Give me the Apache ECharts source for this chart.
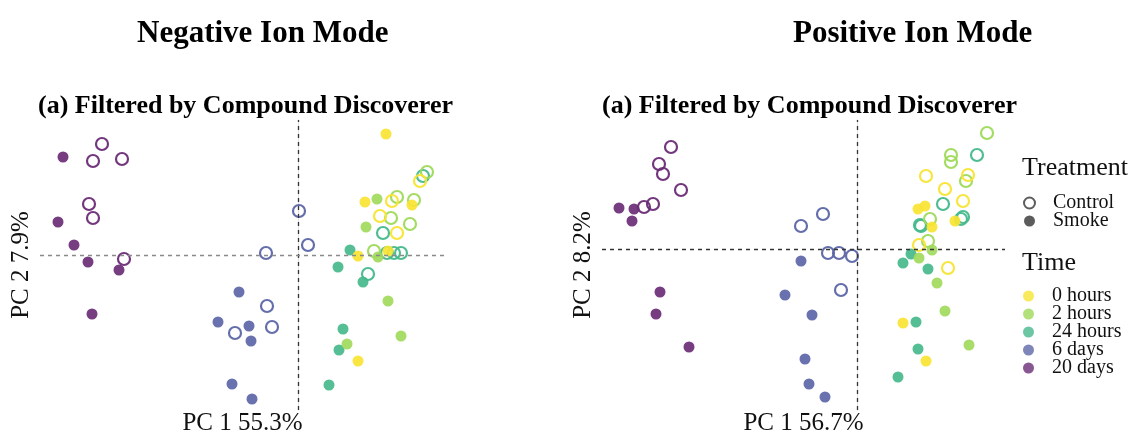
<!DOCTYPE html>
<html><head><meta charset="utf-8">
<script src="https://cdn.jsdelivr.net/npm/echarts@6/dist/echarts.min.js"></script>
<style>html,body{margin:0;padding:0;background:#fff}#c{width:1132px;height:437px}</style>
</head><body><div id="c"></div>
<script>
// Time groups and colours
const timeLevels = ['0 hours','2 hours','24 hours','6 days','20 days'];
const timeColors = ['#F8E433','#9FDA5B','#46B98C','#5C66A7','#6A2C76'];
const treatments = ['Control','Smoke'];

// Negative ion mode: [PC1, PC2] scores
const negControl = {
  '0 hours': [[12.2,7.4],[9.4,5.4],[8.2,3.9],[9.9,2.2]],
  '2 hours': [[12.9,8.3],[9.9,5.8],[11.6,5.5],[9.3,3.7],[11.2,3.1],[7.6,0.4]],
  '24 hours': [[12.5,7.9],[8.5,2.2],[7.0,-1.9],[8.9,0.2],[9.6,0.2],[10.3,0.2]],
  '6 days': [[0.1,4.4],[1.0,1.0],[-3.2,0.2],[-3.1,-5.1],[-2.6,-7.2],[-6.3,-7.8]],
  '20 days': [[-19.6,11.1],[-20.5,9.4],[-17.6,9.6],[-20.9,5.1],[-20.5,3.7],[-17.4,-0.4]]
};
const negSmoke = {
  '0 hours': [[8.8,12.1],[6.7,5.3],[6.0,-0.1],[6.0,-10.6],[11.4,5.0],[9.0,0.4]],
  '2 hours': [[7.9,5.6],[6.8,2.8],[8.0,-0.2],[9.0,-4.6],[10.3,-8.1],[4.9,-8.9]],
  '24 hours': [[5.2,0.5],[4.0,-1.2],[6.5,-2.7],[4.5,-7.4],[4.1,-9.5],[3.1,-13.0]],
  '6 days': [[-5.9,-3.7],[-8.0,-6.7],[-4.9,-7.1],[-4.7,-8.6],[-6.6,-12.9],[-4.6,-14.4]],
  '20 days': [[-23.5,9.8],[-24.0,3.3],[-22.4,1.0],[-21.0,-0.7],[-17.9,-1.5],[-20.6,-5.9]]
};
// Positive ion mode
const posControl = {
  '0 hours': [[6.9,7.3],[11.1,7.4],[8.8,6.0],[10.6,4.8],[6.2,0.4],[9.1,-1.9]],
  '2 hours': [[13.0,11.6],[9.4,9.4],[9.4,8.7],[10.9,6.8],[7.3,3.0],[7.1,0.8]],
  '24 hours': [[12.0,9.4],[8.6,4.5],[6.3,2.4],[10.4,3.0],[6.4,2.3],[10.6,3.2]],
  '6 days': [[-3.4,3.5],[-5.6,2.3],[-2.9,-0.4],[-1.8,-0.4],[-0.5,-0.7],[-1.6,-4.1]],
  '20 days': [[-18.6,10.2],[-19.8,8.5],[-19.4,7.5],[-17.6,5.9],[-20.4,4.5],[-21.3,4.2]]
};
const posSmoke = {
  '0 hours': [[6.1,4.0],[6.8,4.3],[7.5,2.2],[9.8,2.8],[4.6,-7.4],[6.9,-11.2]],
  '2 hours': [[7.5,-0.1],[6.2,-0.9],[8.0,-3.4],[8.8,-6.2],[11.2,-9.6]],
  '24 hours': [[5.4,-0.5],[4.6,-1.4],[7.1,-2.0],[5.9,-7.3],[6.1,-10.0],[4.1,-12.8]],
  '6 days': [[-5.6,-1.2],[-7.2,-4.6],[-4.5,-6.6],[-5.2,-11.0],[-4.8,-13.5],[-3.2,-14.8]],
  '20 days': [[-23.8,4.1],[-22.3,4.0],[-22.5,2.8],[-19.7,-4.3],[-20.1,-6.5],[-16.8,-9.8]]
};

const panelTitles = ['Negative Ion Mode','Positive Ion Mode'];
const subTitle = '(a) Filtered by Compound Discoverer';
const xNames = ['PC 1 55.3%','PC 1 56.7%'];
const yNames = ['PC 2 7.9%','PC 2 8.2%'];
const xRanges = [[-25.8,14.7],[-25.5,14.8]];
const yRanges = [[-15.5,13.5],[-16.1,12.9]];

const FONT = "'Liberation Serif', 'DejaVu Serif', serif";
const chart = echarts.init(document.getElementById('c'), null, {renderer:'canvas'});

const grids = [
  {left:40, top:120, width:405, height:290, outerBoundsMode:'none', containLabel:false},
  {left:602, top:120, width:403, height:290, outerBoundsMode:'none', containLabel:false}
];
const xAxes = [0,1].map(i => ({
  gridIndex:i, type:'value', min:xRanges[i][0], max:xRanges[i][1],
  axisLine:{show:false}, axisTick:{show:false}, axisLabel:{show:false}, splitLine:{show:false},
  name:xNames[i], nameLocation:'middle', nameGap:1,
  nameTextStyle:{fontFamily:FONT, fontSize:25, color:'#111', verticalAlign:'top'}
}));
const yAxes = [0,1].map(i => ({
  gridIndex:i, type:'value', min:yRanges[i][0], max:yRanges[i][1],
  axisLine:{show:true, lineStyle:{color:'#e3e3e3', width:1}}, axisTick:{show:false}, axisLabel:{show:false}, splitLine:{show:false},
  name:yNames[i], nameLocation:'middle', nameGap:6,
  nameTextStyle:{fontFamily:FONT, fontSize:25, color:'#111'}
}));

const series = [];
const panels = [[negSmoke, negControl],[posSmoke, posControl]];
panels.forEach((p, gi) => {
  // reference dashed lines
  series.push({
    type:'scatter', xAxisIndex:gi, yAxisIndex:gi, data:[], silent:true,
    markLine:{
      silent:true, symbol:'none', label:{show:false},
      data:[
        {xAxis:0, lineStyle:{type:[4,4], color:'#333', width:1.3}},
        {yAxis:0, lineStyle:{type:[4,4], color: gi===0 ? '#8a8a8a' : '#333', width:1.3}}
      ]
    }
  });
  timeLevels.slice().reverse().forEach(t => {
    const ci = timeLevels.indexOf(t);
    // smoke (filled)
    series.push({
      type:'scatter', xAxisIndex:gi, yAxisIndex:gi, symbol:'circle', symbolSize:11,
      data:p[0][t] || [],
      itemStyle:{color:timeColors[ci], opacity:0.92}, silent:true
    });
    // control (hollow)
    series.push({
      type:'scatter', xAxisIndex:gi, yAxisIndex:gi, symbol:'circle', symbolSize:12,
      data:p[1][t] || [],
      itemStyle:{color:'rgba(0,0,0,0)', borderColor:timeColors[ci], borderWidth:2.2, opacity:0.95}, silent:true
    });
  });
});

// legend-only series
series.push({name:'Control', type:'scatter', data:[], itemStyle:{color:'#fff', borderColor:'#333', borderWidth:2}});
series.push({name:'Smoke', type:'scatter', data:[], itemStyle:{color:'#333'}});
timeLevels.forEach((t,i) => series.push({name:t, type:'scatter', data:[], itemStyle:{color:timeColors[i]}}));

const legendText = {fontFamily:FONT, fontSize:20, color:'#111', lineHeight:18, padding:[0,0,0,13]};
const option = {
  animation:false,
  backgroundColor:'#fff',
  title:[
    {text:panelTitles[0], left:132, top:13, textStyle:{fontFamily:FONT, fontSize:31, fontWeight:'bold', color:'#000'}},
    {text:panelTitles[1], left:788, top:13, textStyle:{fontFamily:FONT, fontSize:31, fontWeight:'bold', color:'#000'}},
    {text:subTitle, left:33, top:88, textStyle:{fontFamily:FONT, fontSize:26, fontWeight:'bold', color:'#000'}},
    {text:subTitle, left:597, top:88, textStyle:{fontFamily:FONT, fontSize:26, fontWeight:'bold', color:'#000'}},
    {text:'Treatment', left:1017, top:150, textStyle:{fontFamily:FONT, fontSize:26, fontWeight:'normal', color:'#111'}},
    {text:'Time', left:1017, top:245, textStyle:{fontFamily:FONT, fontSize:26, fontWeight:'normal', color:'#111'}}
  ],
  grid:grids,
  xAxis:xAxes,
  yAxis:yAxes,
  legend:[
    {data:[{name:'Control', icon:'circle', itemStyle:{color:'#fff', borderColor:'#333', borderWidth:2}},{name:'Smoke', icon:'circle'}],
     orient:'vertical', left:1018, top:188, itemWidth:11, itemHeight:11, itemGap:-2, selectedMode:false, textStyle:legendText},
    {data:timeLevels.map(t => ({name:t, icon:'circle'})),
     orient:'vertical', left:1018, top:281, itemWidth:11, itemHeight:11, itemGap:-2, selectedMode:false, textStyle:legendText}
  ],
  series:series
};
chart.setOption(option);
</script></body></html>
